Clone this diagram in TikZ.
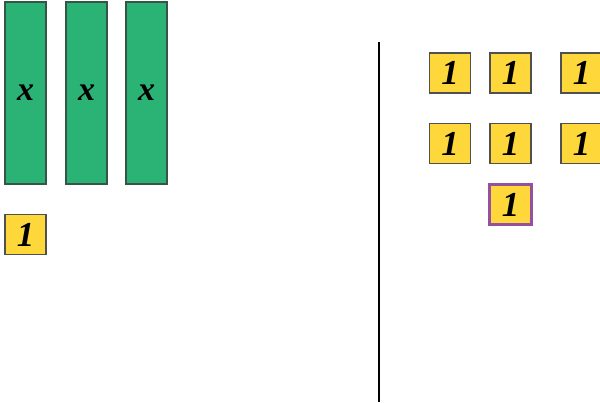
\documentclass[tikz,border=0pt]{standalone}
\usepackage{fontspec}
\setmainfont{Liberation Serif}
\definecolor{tilegreen}{RGB}{43,179,118}
\definecolor{tileyellow}{RGB}{254,216,58}
\definecolor{tileedge}{RGB}{80,80,80}
\definecolor{greenedge}{RGB}{55,85,70}
\definecolor{purpleedge}{RGB}{150,80,160}
\tikzset{
  xbar/.style={draw=greenedge, line width=1.3pt, fill=tilegreen, minimum width=41pt, minimum height=182pt, inner sep=0pt, font=\fontsize{34}{34}\selectfont\bfseries\itshape},
  unit/.style={draw=tileedge, line width=1.3pt, fill=tileyellow, minimum width=41pt, minimum height=40pt, inner sep=0pt, font=\fontsize{35}{35}\selectfont\bfseries\itshape},
  unitp/.style={unit, draw=purpleedge, line width=3pt, minimum width=42pt, minimum height=40pt}
}
\begin{document}
\begin{tikzpicture}[x=1pt,y=-1pt]
\useasboundingbox (0,0) rectangle (600,402);
\clip (0,0) rectangle (600,402);
\node[xbar] (x1) at (25.5,93) {x};
\node[xbar] (x2) at (86.5,93) {x};
\node[xbar] (x3) at (146.5,93) {x};
\node[unit] (u0) at (25.5,234.5) {1};
\coordinate (ltop) at (379,42);
\coordinate (lbot) at (379,402);
\draw[line width=1.5pt] (ltop) -- (lbot);
\node[unit] (a1) at (450,73) {1};
\node[unit] (a2) at (510.5,73) {1};
\node[unit] (a3) at (581.5,73) {1};
\node[unit] (b1) at (450,143.5) {1};
\node[unit] (b2) at (510.5,143.5) {1};
\node[unit] (b3) at (581.5,143.5) {1};
\node[unitp] (c2) at (510.5,204.5) {1};
\end{tikzpicture}
\end{document}
